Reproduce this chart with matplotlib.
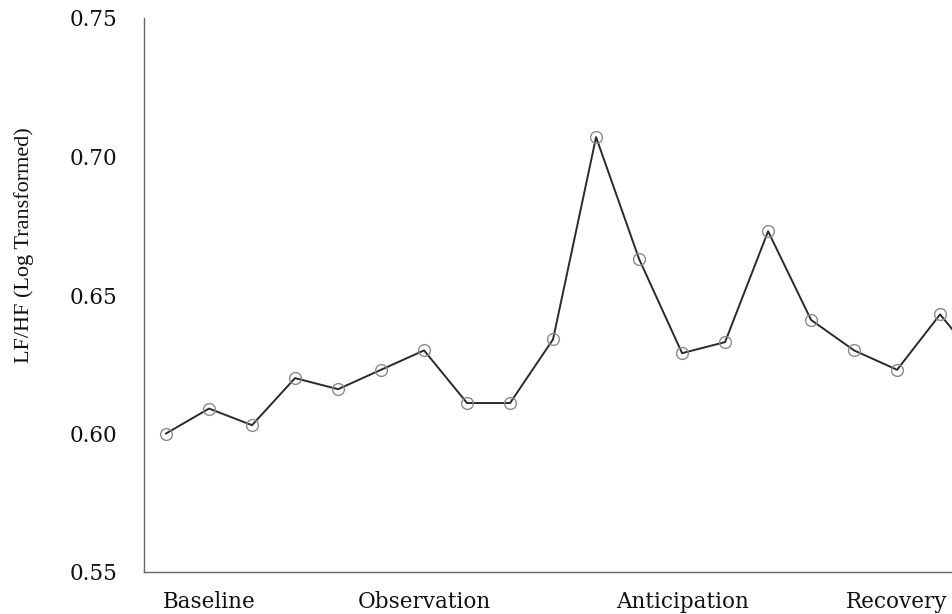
import matplotlib
matplotlib.use("Agg")
import matplotlib.pyplot as plt

# LF/HF ratio (log transformed) across the 20 measurement epochs
epochs = list(range(1, 21))
lfhf = [0.600, 0.609, 0.603, 0.620, 0.616, 0.623, 0.630, 0.611, 0.611, 0.634,
        0.707, 0.663, 0.629, 0.633, 0.673, 0.641, 0.630, 0.623, 0.643, 0.624]

# Phase labels, centred on their epoch groups
phase_names = ["Baseline", "Observation", "Anticipation", "Recovery"]
phase_centers = [2, 7, 13, 18]

y_ticks = [0.55, 0.60, 0.65, 0.70, 0.75]

W, H = 953, 614
fig = plt.figure(figsize=(W / 100, H / 100), dpi=100)
ax = fig.add_axes([144 / W, (H - 572) / H, (W - 144) / W, (572 - 18) / H])

ax.plot(epochs, lfhf, color="#2a2a2a", linewidth=1.4,
        marker="o", markersize=8.5, markerfacecolor="none",
        markeredgecolor="#8a8a8a", markeredgewidth=1.0, clip_on=True)

ax.set_xlim(0.488, 19.3)
ax.set_ylim(0.55, 0.75)

ax.set_yticks(y_ticks)
ax.set_yticklabels([f"{v:.2f}" for v in y_ticks])
ax.set_xticks(phase_centers)
ax.set_xticklabels(phase_names)

for lab in ax.get_yticklabels() + ax.get_xticklabels():
    lab.set_fontfamily("DejaVu Serif")
    lab.set_fontsize(15.5)
    lab.set_color("#111111")

ax.tick_params(axis="y", length=0, pad=19)
ax.tick_params(axis="x", length=0, pad=14)

for side in ("top", "right"):
    ax.spines[side].set_visible(False)
for side in ("left", "bottom"):
    ax.spines[side].set_linestyle((0, (1, 1)))
    ax.spines[side].set_color("#666666")
    ax.spines[side].set_linewidth(1.0)

fig.text(24 / W, 1 - 245 / H, "LF/HF (Log Transformed)", rotation=90,
         ha="center", va="center", family="Liberation Serif", fontsize=16,
         color="#111111")

fig.savefig("out.png", dpi=100, facecolor="white")
